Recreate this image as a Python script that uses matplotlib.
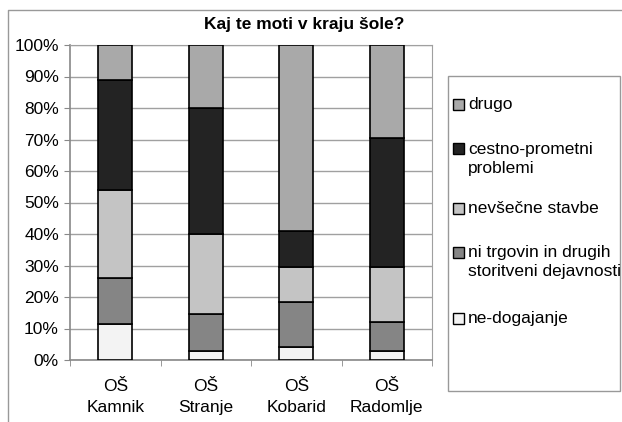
import numpy as np
import matplotlib.pyplot as plt
from matplotlib.patches import Rectangle
from matplotlib.lines import Line2D

plt.rcParams['font.family'] = ['Liberation Sans', 'DejaVu Sans']

# data (percent, stacked bottom -> top)
schools = ['OŠ\nKamnik', 'OŠ\nStranje', 'OŠ\nKobarid', 'OŠ\nRadomlje']
ne_dogajanje = [11.5, 3.0, 4.0, 3.0]
ni_trgovin = [14.5, 11.5, 14.5, 9.0]
nevsecne = [28.0, 25.5, 11.0, 17.5]
cestno = [35.0, 40.0, 11.5, 41.0]
drugo = [11.0, 20.0, 59.0, 29.5]

series = [ne_dogajanje, ni_trgovin, nevsecne, cestno, drugo]
labels = ['ne-dogajanje', 'ni trgovin in drugih\nstoritveni dejavnosti',
          'nevšečne stavbe', 'cestno-prometni\nproblemi', 'drugo']
colors = ['#f3f3f3', '#858585', '#c4c4c4', '#232323', '#a9a9a9']

W, H = 622, 422
fs = 12.5
fig = plt.figure(figsize=(W / 100, H / 100), dpi=100)
ax = fig.add_axes([70 / W, 1 - 360 / H, 362 / W, 315 / H])

x = np.arange(len(schools))
bottom = np.zeros(len(schools))
for vals, c in zip(series, colors):
    ax.bar(x, vals, width=0.38, bottom=bottom, color=c, edgecolor='black',
           linewidth=1.2, zorder=3)
    bottom += np.array(vals)

ax.set_xlim(-0.5, len(schools) - 0.5)
ax.set_ylim(0, 100)
ax.set_yticks(np.arange(0, 101, 10))
ax.set_yticklabels(['%d%%' % v for v in range(0, 101, 10)], fontsize=fs)
ax.set_xticks(x)
ax.set_xticklabels(schools, fontsize=fs, linespacing=1.45)
ax.set_xticks(np.arange(-0.5, len(schools), 1), minor=True)
ax.tick_params(axis='x', which='major', length=0, pad=14)
ax.tick_params(axis='x', which='minor', length=4, color='#888888')
ax.tick_params(axis='y', length=4, color='#888888', pad=4)
ax.yaxis.grid(True, color='#a0a0a0', linewidth=1.0, zorder=0)
for s in ['top', 'right']:
    ax.spines[s].set_color('#a0a0a0')
for s in ['left', 'bottom']:
    ax.spines[s].set_color('#888888')
    ax.spines[s].set_linewidth(1.2)

fig.text(304 / W, 1 - 25 / H, 'Kaj te moti v kraju šole?', ha='center',
         va='center', fontsize=fs, fontweight='bold')

# legend box drawn by hand (Excel style)
fig.patches.append(Rectangle((448 / W, 1 - 391 / H), 172 / W, 315 / H,
                             transform=fig.transFigure, facecolor='white',
                             edgecolor='#999999', linewidth=1.0))
leg_y = [318, 252, 208, 149, 104]
for lab, c, yy in zip(labels, colors, leg_y):
    fig.patches.append(Rectangle((453 / W, 1 - (yy + 5.5) / H), 11 / W, 11 / H,
                                 transform=fig.transFigure, facecolor=c,
                                 edgecolor='black', linewidth=1.0))
    fig.text(468 / W, 1 - (yy - 7) / H, lab, ha='left', va='top',
             fontsize=fs, linespacing=1.3)

# chart area border (left and top)
fig.add_artist(Line2D([8 / W, 8 / W, 1], [0, 1 - 9.5 / H, 1 - 9.5 / H],
                      transform=fig.transFigure, color='#999999', linewidth=1.0))

fig.savefig('out.png', dpi=100)
